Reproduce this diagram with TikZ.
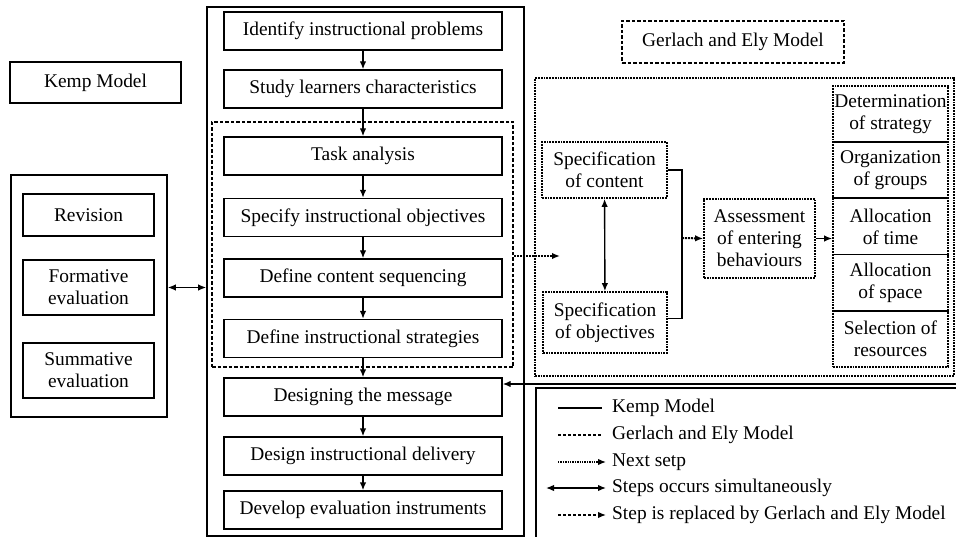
\documentclass[tikz,border=0pt]{standalone}
\usepackage{fontspec}
\setmainfont{Liberation Serif}
\usetikzlibrary{arrows.meta}

\tikzset{
  kbox/.style={draw, line width=1.4pt, align=center, inner sep=0pt},
  kstep/.style={kbox, minimum width=278pt, minimum height=38pt},
  frame/.style={draw, line width=1.6pt, inner sep=0pt},
  gbox/.style={draw, densely dotted, line width=1.8pt, align=center, inner sep=0pt},
  gcell/.style={gbox, minimum width=115pt, minimum height=56.2pt},
  gtitle/.style={draw, dash pattern=on 3.5pt off 2pt, line width=1.5pt, inner sep=0pt},
  swapbox/.style={draw, dash pattern=on 3.5pt off 2pt, line width=1.8pt, inner sep=0pt},
  kline/.style={line width=1.4pt},
  nextstep/.style={densely dotted, line width=2pt},
  legtext/.style={anchor=west, inner sep=0pt},
}

\begin{document}
\begin{tikzpicture}[x=1pt, y=-1pt, >={Latex[length=8pt,width=6.5pt]},
    font=\fontsize{19.4}{22}\selectfont]
  \clip (0,0) rectangle (956,537);

  % Kemp model
  \node[kbox, minimum width=171pt, minimum height=41pt] (kemptitle) at (95.5,82.5) {Kemp Model};
  \node[frame, minimum width=317pt, minimum height=529pt] (kemp) at (365.5,271.5) {};
  \node[kstep] (idp) at (363,31) {Identify instructional problems};
  \node[kstep] (slc) at (363,89) {Study learners characteristics};
  \node[kstep] (tan) at (363,156) {Task analysis};
  \node[kstep] (sio) at (363,217.5) {Specify instructional objectives};
  \node[kstep] (dcs) at (363,278) {Define content sequencing};
  \node[kstep] (dis) at (363,338.5) {Define instructional strategies};
  \node[kstep] (dtm) at (363,397) {Designing the message};
  \node[kstep] (did) at (363,456) {Design instructional delivery};
  \node[kstep] (dei) at (363,510) {Develop evaluation instruments};
  \node[swapbox, minimum width=301pt, minimum height=245pt] (swap) at (362.5,244.5) {};

  % Evaluation
  \node[frame, minimum width=156pt, minimum height=242pt] (evalgrp) at (89,296) {};
  \node[kbox, minimum width=131pt, minimum height=42pt] (rev) at (88.5,215) {Revision};
  \node[kbox, minimum width=131pt, minimum height=55pt] (fev) at (88.5,287.5) {Formative\\evaluation};
  \node[kbox, minimum width=131pt, minimum height=55pt] (sev) at (88.5,370.5) {Summative\\evaluation};

  % Gerlach and Ely model
  \node[gtitle, minimum width=222pt, minimum height=42pt] (getitle) at (733,42) {Gerlach and Ely Model};
  \node[gbox, minimum width=419pt, minimum height=298pt] (ge) at (744.5,227) {};
  \node[gbox, minimum width=125pt, minimum height=56pt] (soc) at (604.5,170) {Specification\\of content};
  \node[gbox, minimum width=124pt, minimum height=61pt] (soo) at (605,322.5) {Specification\\of objectives};
  \node[gbox, minimum width=111pt, minimum height=79pt] (aeb) at (759.5,238.5) {Assessment\\of entering\\behaviours};
  \node[gcell] (dos) at (890.5,114.1) {Determination\\of strategy};
  \node[gcell] (oog) at (890.5,170.3) {Organization\\of groups};
  \node[gcell] (aot) at (890.5,226.5) {Allocation\\of time};
  \node[gcell] (aos) at (890.5,282.7) {Allocation\\of space};
  \node[gcell] (sor) at (890.5,338.9) {Selection of\\resources};

  \coordinate (brk) at (682,238);
  \coordinate (gein) at (560,256);
  \coordinate (back) at (958,384);

  % Kemp steps
  \draw[->, kline] (idp) -- (slc);
  \draw[->, kline] (slc) -- (tan);
  \draw[->, kline] (tan) -- (sio);
  \draw[->, kline] (sio) -- (dcs);
  \draw[->, kline] (dcs) -- (dis);
  \draw[->, kline] (dis) -- (dtm);
  \draw[->, kline] (dtm) -- (did);
  \draw[->, kline] (did) -- (dei);
  \draw[<->, kline] (fev -| evalgrp.east) -- (fev -| kemp.west);

  % Gerlach and Ely steps
  \draw[<->, kline] (soc) -- (soo);
  \draw[kline] (soc.east) -| (brk) |- ([yshift=4pt]soo.east);
  \draw[->, nextstep] (brk) -- (aeb.west);
  \draw[->, kline] (aeb.east) -- (aeb.east -| aot.west);
  \draw[->, nextstep] (swap.east |- gein) -- (gein);
  \draw[->, kline] (back) -- (back -| dtm.east);

  % Legend
  \node[frame, line width=1.4pt, minimum width=424pt, minimum height=153pt] (legend) at (748,464.5) {};
  \node[legtext] (lkemp) at (612,408) {Kemp Model};
  \node[legtext] (lge) at (612,435) {Gerlach and Ely Model};
  \node[legtext] (lnext) at (612,462) {Next setp};
  \node[legtext] (lsim) at (612,488) {Steps occurs simultaneously};
  \node[legtext] (lrep) at (612,515) {Step is replaced by Gerlach and Ely Model};
  \draw[kline] ([xshift=-54pt]lkemp.west) -- ([xshift=-10pt]lkemp.west);
  \draw[kline, dash pattern=on 3pt off 2pt] ([xshift=-54pt]lge.west) -- ([xshift=-10pt]lge.west);
  \draw[->, nextstep, line width=1.4pt] ([xshift=-54pt]lnext.west) -- ([xshift=-6pt]lnext.west);
  \draw[<->, kline] ([xshift=-66pt]lsim.west) -- ([xshift=-6pt]lsim.west);
  \draw[->, kline, dash pattern=on 3pt off 2pt] ([xshift=-54pt]lrep.west) -- ([xshift=-6pt]lrep.west);
\end{tikzpicture}
\end{document}
